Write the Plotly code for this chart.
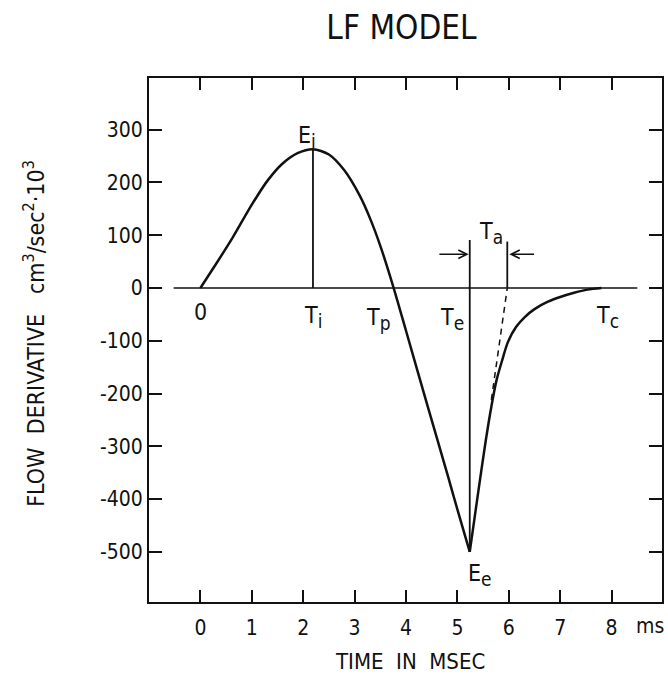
import plotly.graph_objects as go

# Open phase of the LF glottal flow derivative (time in ms, value in cm^3/sec^2 * 10^3)
open_t = [0, 0.3, 0.63, 1.0, 1.31, 1.6, 1.9, 2.19, 2.5, 2.8, 3.1, 3.3, 3.5, 3.76, 4.0, 4.3, 4.6, 4.82, 5.03, 5.24]
open_v = [0, 45, 96, 158, 204, 236, 256, 263, 253, 223, 175, 132, 80, 0, -81, -183, -284, -358, -430, -500]

# Return phase after the main excitation
ret_t = [5.24, 5.40, 5.55, 5.66, 5.76, 5.87, 5.98, 6.14, 6.31, 6.5, 6.76, 7.0, 7.27, 7.53, 7.8]
ret_v = [-500, -390, -290, -225, -175, -137, -103, -74, -55, -40, -26, -17, -9, -3, 0]

# Key instants and amplitudes
Ti, Ei = 2.19, 263
Te, Ee = 5.24, -500
Ta_end = 5.97

# Tangent of the return phase at Te (dashed), drawn from where it leaves the curve
tan_t = [5.66, Ta_end]
tan_v = [-212, 0]

# Baseline
base_t = [-0.52, 8.5]
base_v = [0, 0]

x_ticks = [0, 1, 2, 3, 4, 5, 6, 7, 8]
y_ticks = [-500, -400, -300, -200, -100, 0, 100, 200, 300]
y_tick_text = ["-500", "-400", "-300", "-200", "-100", "0", "100", "200", "300"]

FONT = "DejaVu Sans Condensed, DejaVu Sans, sans-serif"
BLACK = "#111111"

fig = go.Figure()

fig.add_trace(go.Scatter(x=base_t, y=base_v, mode="lines",
                         line=dict(color=BLACK, width=1.5), hoverinfo="skip"))
fig.add_trace(go.Scatter(x=open_t, y=open_v, mode="lines",
                         line=dict(color=BLACK, width=2.5, shape="spline", smoothing=0.8)))
fig.add_trace(go.Scatter(x=ret_t, y=ret_v, mode="lines",
                         line=dict(color=BLACK, width=2.5, shape="spline", smoothing=0.8)))
fig.add_trace(go.Scatter(x=tan_t, y=tan_v, mode="lines",
                         line=dict(color=BLACK, width=1.5, dash="6px,5px")))
# Vertical markers at Ti, Te and Te+Ta
fig.add_trace(go.Scatter(x=[Ti, Ti], y=[0, Ei], mode="lines",
                         line=dict(color=BLACK, width=1.8)))
fig.add_trace(go.Scatter(x=[Te, Te], y=[Ee, 91], mode="lines",
                         line=dict(color=BLACK, width=1.8)))
fig.add_trace(go.Scatter(x=[Ta_end, Ta_end], y=[0, 88], mode="lines",
                         line=dict(color=BLACK, width=1.8)))

annotations = []
# Ta interval arrows
annotations.append(dict(x=Te - 0.02, y=64, ax=4.62, ay=64, xref="x", yref="y",
                        axref="x", ayref="y", showarrow=True, arrowhead=5,
                        arrowsize=1.2, arrowwidth=1.4, arrowcolor=BLACK, text=""))
annotations.append(dict(x=Ta_end + 0.04, y=64, ax=6.52, ay=64, xref="x", yref="y",
                        axref="x", ayref="y", showarrow=True, arrowhead=5,
                        arrowsize=1.2, arrowwidth=1.4, arrowcolor=BLACK, text=""))


def sub(base, s):
    return f"{base}<sub><span style='font-size:19px'>{s}</span></sub>"


labels = [
    ("0", 0.0, -45),
    (sub("T", "i"), 2.19, -55),
    (sub("T", "p"), 3.47, -58),
    (sub("T", "e"), 4.90, -58),
    (sub("T", "c"), 7.92, -55),
    (sub("E", "i"), 2.08, 287),
    (sub("E", "e"), 5.43, -543),
    (sub("T", "a"), 5.66, 105),
]
for txt, lx, ly in labels:
    annotations.append(dict(x=lx, y=ly, xref="x", yref="y", text=txt, showarrow=False,
                            font=dict(family=FONT, size=23, color=BLACK),
                            xanchor="center", yanchor="middle"))

# Axis titles and unit
annotations.append(dict(x=0.509, y=-0.114, xref="paper", yref="paper",
                        text="TIME  IN  MSEC", showarrow=False,
                        font=dict(family=FONT, size=22, color=BLACK),
                        xanchor="center", yanchor="middle"))
annotations.append(dict(x=-0.223, y=0.513, xref="paper", yref="paper",
                        text="FLOW  DERIVATIVE   cm<sup>3</sup>/sec<sup>2</sup>·10<sup>3</sup>",
                        showarrow=False, textangle=-90,
                        font=dict(family=FONT, size=23, color=BLACK),
                        xanchor="center", yanchor="middle"))
annotations.append(dict(x=0.977, y=-0.046, xref="paper", yref="paper",
                        text="ms", showarrow=False,
                        font=dict(family=FONT, size=21, color=BLACK),
                        xanchor="center", yanchor="middle"))

fig.update_layout(
    width=668, height=676,
    margin=dict(l=149, r=4, t=78, b=74),
    paper_bgcolor="white", plot_bgcolor="white",
    showlegend=False,
    title=dict(text="LF MODEL", x=0.601, y=0.959, xref="container", yref="container",
               xanchor="center", yanchor="middle",
               font=dict(family=FONT, size=33, color=BLACK)),
    annotations=annotations,
    font=dict(family=FONT, color=BLACK),
)
fig.update_xaxes(range=[-1.0, 8.98], tickvals=x_ticks, ticks="inside", ticklen=12,
                 tickwidth=2, tickcolor=BLACK, showline=True, linewidth=2, linecolor=BLACK,
                 mirror="ticks", showgrid=False, zeroline=False, ticklabelstandoff=6,
                 tickfont=dict(family=FONT, size=21, color=BLACK))
fig.update_yaxes(range=[-595, 398], tickvals=y_ticks, ticktext=y_tick_text, ticks="inside",
                 ticklen=13, tickwidth=2, tickcolor=BLACK, showline=True, linewidth=2,
                 linecolor=BLACK, mirror="ticks", showgrid=False, zeroline=False,
                 tickfont=dict(family=FONT, size=21, color=BLACK))

fig.write_html("out.html")
